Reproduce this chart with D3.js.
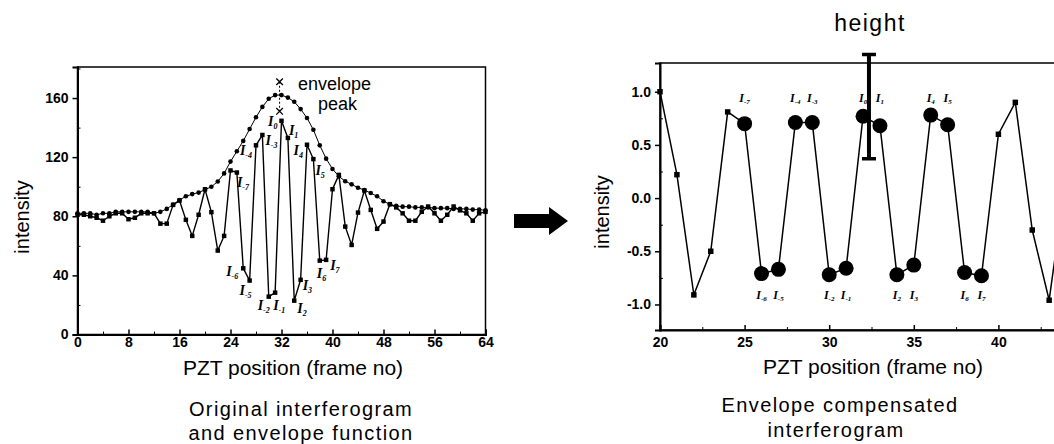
<!DOCTYPE html>
<meta charset="utf-8">
<script src="https://d3js.org/d3.v7.min.js"></script>
<style>
  body { margin: 0; background: #fff; }
  text { font-family: "Liberation Sans", Arial, sans-serif; fill: #000; }
  .tick text { font-size: 14px; font-weight: bold; }
  .tick line, .domain { stroke: #000; }
</style>
<svg id="chart" width="1054" height="444"></svg>
<script>

// ---- left panel: original interferogram + envelope (frames 0..64)
var frames = d3.range(0, 65);
var interferogram = [81, 81, 80, 79, 77, 80, 82, 82, 78, 79, 82, 82, 82, 75, 75, 87.7,
  90.6, 77.6, 66.7, 81, 98.3, 82.8, 56.8, 66.7, 111, 109.6, 44.8, 36.5, 128, 135, 25.6, 28.3,
  144.6, 133, 22.9, 37, 128.4, 118.7, 50, 50.5, 98.3, 108, 73, 60.6, 82.5, 97.4, 84.3, 71.5,
  76.4, 88.2, 86, 82, 77, 77, 83, 86.6, 82, 77, 81, 86.6, 84, 82, 77, 82, 83];
var envelope = [82, 82, 82, 81, 82, 82, 83, 83, 83, 83, 83, 83, 82, 83, 85, 88,
  91, 93.5, 95, 96, 98, 100, 103.5, 109, 117, 124, 131, 139, 147, 154, 159.5, 162,
  162, 160.3, 157.5, 152.5, 146.5, 138.5, 128, 119, 112, 107, 103.7, 101.6, 99.3, 97.7, 95.7, 93.5,
  90.2, 88, 87, 86.5, 86.5, 86, 86, 86, 85.5, 85.5, 85.5, 85, 85, 85, 84.5, 84.5, 84];
var peakPos = 31.7;
var peakMarks = [171, 151];
var leftTicksX = [0, 8, 16, 24, 32, 40, 48, 56, 64];
var leftMinorX = [4, 12, 20, 28, 36, 44, 52, 60];
var leftTicksY = [0, 40, 80, 120, 160];
var leftMinorY = [20, 60, 100, 140, 180];

// ---- right panel: envelope compensated interferogram (frames 20..44)
var rightFrames = d3.range(20, 45);
var compensated = [1.0, 0.22, -0.91, -0.5, 0.81, 0.7, -0.71, -0.67, 0.71, 0.71, -0.72, -0.66,
  0.77, 0.68, -0.72, -0.63, 0.78, 0.69, -0.7, -0.73, 0.6, 0.9, -0.3, -0.96, 0.2];
var fringeOrders = d3.range(-7, 8);   // I_-7 .. I_7 sit at frames 25 .. 39
var centerFrame = 32;
var heightPos = 32.35;
var heightRange = [0.37, 1.35];
var rightTicksX = [20, 25, 30, 35, 40];
var rightMinorX = [22.5, 27.5, 32.5, 37.5, 42.5];
var rightTicksY = [-1, -0.5, 0, 0.5, 1];
var rightMinorY = [-0.75, -0.25, 0.25, 0.75];

var svg = d3.select("#chart");

// label placement on the left panel: [dx, dy, anchor]
var leftLabelPos = {
  "-7": [0, 14, "start"], "-6": [-5, 8, "end"], "-5": [2, 14, "end"], "-4": [-4, 10, "end"],
  "-3": [3, 10, "start"], "-2": [1, 13, "end"], "-1": [-2, 17, "start"], "0": [-4, 5, "end"],
  "1": [1, -3, "start"], "2": [3, 12, "start"], "3": [2, 10, "start"], "4": [-4, 10, "end"],
  "5": [2, 16, "start"], "6": [-3, 17, "start"], "7": [4, 10, "start"]
};

function fringeLabel(g, k, x, y, anchor, big) {
  var t = g.append("text")
    .attr("x", x).attr("y", y)
    .attr("text-anchor", anchor)
    .style("font-family", "'Liberation Serif', 'Times New Roman', serif")
    .style("font-style", "italic").style("font-weight", "bold")
    .style("font-size", big ? "14px" : "12px");
  t.append("tspan").text("I");
  t.append("tspan").attr("dy", big ? 3 : 2).style("font-size", big ? "8px" : "7px")
    .text(String(k));
}

// ================= LEFT PANEL =================
var xL = d3.scaleLinear().domain([0, 64]).range([77.5, 485.5]);
var yL = d3.scaleLinear().domain([0, 181]).range([334.5, 67]);
var gL = svg.append("g");

gL.append("rect")
  .attr("x", xL(0)).attr("y", yL(181))
  .attr("width", xL(64) - xL(0)).attr("height", yL(0) - yL(181))
  .attr("fill", "none").attr("stroke", "#000").attr("stroke-width", 1.5);

var axL = gL.append("g").attr("transform", "translate(0," + yL(0) + ")")
  .call(d3.axisBottom(xL).tickValues(leftTicksX).tickSize(-5).tickPadding(3).tickFormat(d3.format("d")));
gL.append("g").attr("transform", "translate(0," + yL(0) + ")")
  .call(d3.axisBottom(xL).tickValues(leftMinorX).tickSize(-3).tickFormat(""))
  .select(".domain").remove();
var ayL = gL.append("g").attr("transform", "translate(" + xL(0) + ",0)")
  .call(d3.axisLeft(yL).tickValues(leftTicksY).tickSize(5).tickPadding(4));
gL.append("g").attr("transform", "translate(" + xL(0) + ",0)")
  .call(d3.axisLeft(yL).tickValues(leftMinorY).tickSize(-3).tickFormat(""))
  .select(".domain").remove();
[axL, ayL].forEach(function(a) {
  a.select(".domain").attr("stroke-width", 2);
  a.selectAll(".tick line").attr("stroke-width", 1.5);
});

// envelope: thin line with dots
gL.append("path")
  .datum(frames)
  .attr("fill", "none").attr("stroke", "#000").attr("stroke-width", 1)
  .attr("d", d3.line().x(function(d) { return xL(d); }).y(function(d) { return yL(envelope[d]); }));
gL.selectAll(".env").data(frames).enter().append("circle")
  .attr("cx", function(d) { return xL(d); })
  .attr("cy", function(d) { return yL(envelope[d]); })
  .attr("r", 2.3).attr("fill", "#000");

// interferogram: line with squares
gL.append("path")
  .datum(frames)
  .attr("fill", "none").attr("stroke", "#000").attr("stroke-width", 1.4)
  .attr("d", d3.line().x(function(d) { return xL(d); }).y(function(d) { return yL(interferogram[d]); }));
gL.selectAll(".sq").data(frames).enter().append("path")
  .attr("transform", function(d) { return "translate(" + xL(d) + "," + yL(interferogram[d]) + ")"; })
  .attr("d", d3.symbol().type(d3.symbolSquare).size(20))
  .attr("fill", "#000");

// envelope peak marks
gL.append("line")
  .attr("x1", xL(peakPos)).attr("x2", xL(peakPos))
  .attr("y1", yL(peakMarks[0])).attr("y2", yL(peakMarks[1]))
  .attr("stroke", "#000").attr("stroke-width", 1).attr("stroke-dasharray", "2,2");
gL.selectAll(".pk").data(peakMarks).enter().append("path")
  .attr("transform", function(d) { return "translate(" + xL(peakPos) + "," + yL(d) + ")"; })
  .attr("d", d3.symbol().type(d3.symbolX).size(30))
  .attr("fill", "none").attr("stroke", "#000").attr("stroke-width", 1.3);
gL.append("text").attr("x", 298).attr("y", 90).style("font-size", "18px").text("envelope");
gL.append("text").attr("x", 318).attr("y", 110).style("font-size", "18px").text("peak");

fringeOrders.forEach(function(k) {
  var f = centerFrame + k, p = leftLabelPos[String(k)];
  fringeLabel(gL, k, xL(f) + p[0], yL(interferogram[f]) + p[1], p[2], true);
});

gL.append("text").attr("x", 293).attr("y", 375).attr("text-anchor", "middle")
  .style("font-size", "21px").text("PZT position (frame no)");
gL.append("text").attr("transform", "translate(29,217) rotate(-90)").attr("text-anchor", "middle")
  .style("font-size", "20px").text("intensity");
gL.append("text").attr("x", 301).attr("y", 416).attr("text-anchor", "middle")
  .style("font-size", "20px").style("letter-spacing", "1.4px").text("Original interferogram");
gL.append("text").attr("x", 301).attr("y", 440).attr("text-anchor", "middle")
  .style("font-size", "20px").style("letter-spacing", "1.4px").text("and envelope function");

// ================= ARROW =================
svg.append("path")
  .attr("d", "M514,214 L549,214 L549,207 L568,221 L549,235 L549,228 L514,228 Z")
  .attr("fill", "#000");

// ================= RIGHT PANEL =================
var xR = d3.scaleLinear().domain([20, 45]).range([660, 1083]);
var yR = d3.scaleLinear().domain([-1.24, 1.27]).range([330, 63]);
var gR = svg.append("g");

gR.append("rect")
  .attr("x", xR(20)).attr("y", yR(1.27))
  .attr("width", xR(45) - xR(20)).attr("height", yR(-1.24) - yR(1.27))
  .attr("fill", "none").attr("stroke", "#000").attr("stroke-width", 1.5);

var axR = gR.append("g").attr("transform", "translate(0," + yR(-1.24) + ")")
  .call(d3.axisBottom(xR).tickValues(rightTicksX).tickSize(-5).tickPadding(7).tickFormat(d3.format("d")));
gR.append("g").attr("transform", "translate(0," + yR(-1.24) + ")")
  .call(d3.axisBottom(xR).tickValues(rightMinorX).tickSize(-3).tickFormat(""))
  .select(".domain").remove();
var ayR = gR.append("g").attr("transform", "translate(" + xR(20) + ",0)")
  .call(d3.axisLeft(yR).tickValues(rightTicksY).tickSize(5).tickPadding(4)
    .tickFormat(function(d) { return d.toFixed(1); }));
gR.append("g").attr("transform", "translate(" + xR(20) + ",0)")
  .call(d3.axisLeft(yR).tickValues(rightMinorY).tickSize(-3).tickFormat(""))
  .select(".domain").remove();
[axR, ayR].forEach(function(a) {
  a.select(".domain").attr("stroke-width", 2);
  a.selectAll(".tick line").attr("stroke-width", 1.5);
});

gR.append("path")
  .datum(rightFrames)
  .attr("fill", "none").attr("stroke", "#000").attr("stroke-width", 1.5)
  .attr("d", d3.line().x(function(d) { return xR(d); }).y(function(d, i) { return yR(compensated[i]); }));

var isFringe = function(d) { return d >= centerFrame - 7 && d <= centerFrame + 7; };
gR.selectAll(".rsq").data(rightFrames.filter(function(d) { return !isFringe(d); })).enter().append("path")
  .attr("transform", function(d) { return "translate(" + xR(d) + "," + yR(compensated[d - 20]) + ")"; })
  .attr("d", d3.symbol().type(d3.symbolSquare).size(30))
  .attr("fill", "#000");
gR.selectAll(".rc").data(rightFrames.filter(isFringe)).enter().append("circle")
  .attr("cx", function(d) { return xR(d); })
  .attr("cy", function(d) { return yR(compensated[d - 20]); })
  .attr("r", 7.5).attr("fill", "#000");

fringeOrders.forEach(function(k) {
  var f = centerFrame + k, v = compensated[f - 20];
  fringeLabel(gR, k, xR(f), v > 0 ? yR(0.9) : yR(-0.95), "middle", false);
});

// height bar
gR.append("line")
  .attr("x1", xR(heightPos)).attr("x2", xR(heightPos))
  .attr("y1", yR(heightRange[0])).attr("y2", yR(heightRange[1]))
  .attr("stroke", "#000").attr("stroke-width", 4);
gR.selectAll(".cap").data(heightRange).enter().append("line")
  .attr("x1", xR(heightPos) - 7).attr("x2", xR(heightPos) + 7)
  .attr("y1", function(d) { return yR(d); }).attr("y2", function(d) { return yR(d); })
  .attr("stroke", "#000").attr("stroke-width", 3.5);
gR.append("text").attr("x", 870).attr("y", 31).attr("text-anchor", "middle")
  .style("font-size", "23px").style("letter-spacing", "1.5px").text("height");

gR.append("text").attr("x", 873).attr("y", 374).attr("text-anchor", "middle")
  .style("font-size", "21px").text("PZT position (frame no)");
gR.append("text").attr("transform", "translate(609,212) rotate(-90)").attr("text-anchor", "middle")
  .style("font-size", "20px").text("intensity");
gR.append("text").attr("x", 840).attr("y", 412).attr("text-anchor", "middle")
  .style("font-size", "20px").style("letter-spacing", "1.4px").text("Envelope compensated");
gR.append("text").attr("x", 836).attr("y", 437).attr("text-anchor", "middle")
  .style("font-size", "20px").style("letter-spacing", "1.4px").text("interferogram");

</script>
